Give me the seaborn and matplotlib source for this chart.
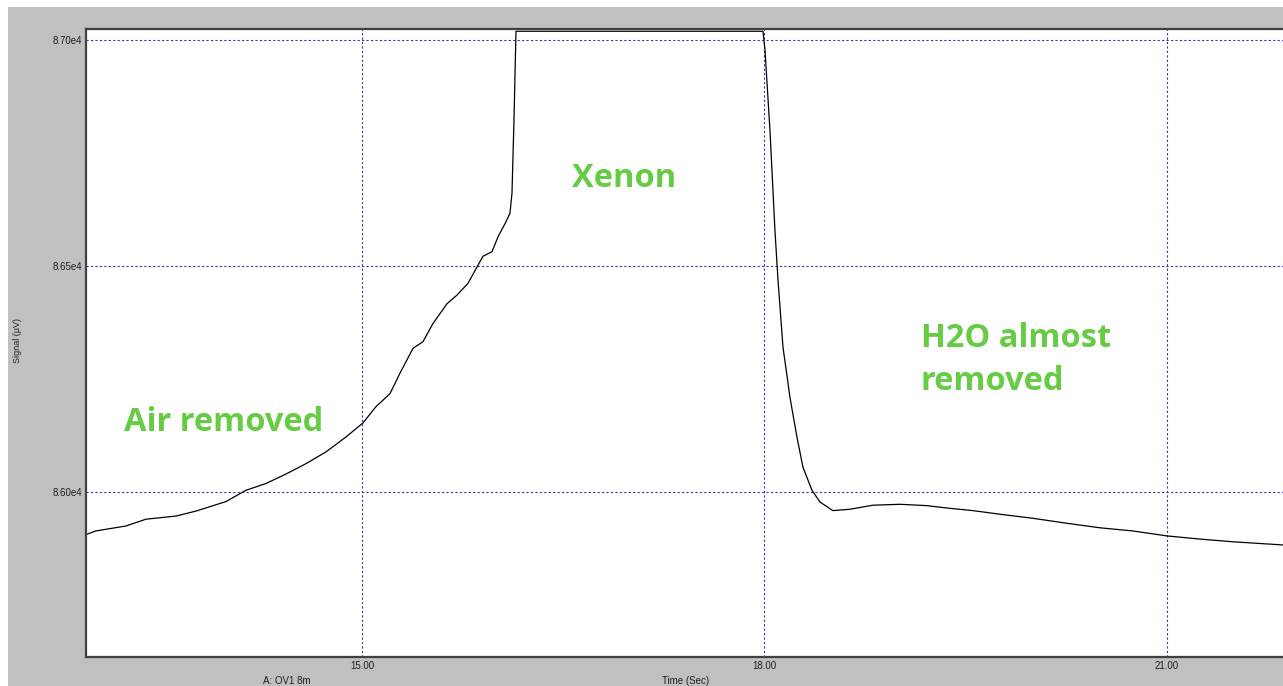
import matplotlib
matplotlib.use("Agg")
import matplotlib.pyplot as plt
from matplotlib.patches import Rectangle
import seaborn as sns
import pandas as pd

# ---- data ----
time_sec = [12.943, 13.017, 13.241, 13.390, 13.614, 13.763, 13.986, 14.135, 14.284,
            14.434, 14.583, 14.732, 14.881, 15.007, 15.104, 15.209, 15.283, 15.380,
            15.455, 15.529, 15.634, 15.708, 15.790, 15.857, 15.902, 15.969, 16.014,
            16.066, 16.103, 16.118, 16.133, 16.148, 17.989, 18.004, 18.041, 18.078,
            18.101, 18.138, 18.190, 18.242, 18.287, 18.354, 18.414, 18.510, 18.637,
            18.809, 19.010, 19.211, 19.383, 19.554, 19.755, 20.001, 20.254, 20.500,
            20.746, 21.000, 21.246, 21.492, 21.865]
signal_uv = [85906, 85914, 85925, 85940, 85947, 85958, 85979, 86004, 86019,
             86040, 86063, 86089, 86122, 86153, 86189, 86218, 86263, 86318,
             86333, 86373, 86417, 86436, 86462, 86498, 86522, 86532, 86565,
             86594, 86617, 86661, 86823, 87020, 87020, 86978, 86801, 86580,
             86469, 86321, 86210, 86122, 86055, 86004, 85978, 85959, 85962,
             85971, 85973, 85970, 85964, 85959, 85951, 85942, 85931, 85921,
             85914, 85903, 85896, 85890, 85883]
x_ticks = [15.0, 18.0, 21.0]
x_tick_labels = ["15.00", "18.00", "21.00"]
y_ticks = [86000, 86500, 87000]
y_tick_labels = ["8.60e4", "8.65e4", "8.70e4"]
annotations = ["Air removed", "Xenon", "H2O almost\nremoved"]
annot_x = [13.226, 16.565, 19.166]
annot_y = [86153, 86695, 86292]
x_label = "Time (Sec)"
y_label = "Signal (µV)"
channel_label = "A: OV1 8m"

df = pd.DataFrame({"time": time_sec, "signal": signal_uv})

W, H = 1283, 686
fig = plt.figure(figsize=(W / 100, H / 100), dpi=100, facecolor="white")
fig.patches.append(Rectangle((8 / W, 0), 1 - 8 / W, 1 - 7 / H, transform=fig.transFigure,
                             facecolor="#c0c0c0", edgecolor="none", zorder=-10))

ax = fig.add_axes([86 / W, 1 - 657 / H, (W - 86) / W + 0.01, (657 - 29) / H])
ax.set_zorder(5)
ax.set_facecolor("white")

sns.lineplot(data=df, x="time", y="signal", ax=ax, color="black", linewidth=0.9,
             estimator=None, sort=False)

ax.set_xlim(12.943, 21.865 + 0.01 * (21.865 - 12.943) / ((W - 86) / W))
ax.set_ylim(85635, 87025)

ax.set_xticks(x_ticks)
ax.set_xticklabels(x_tick_labels)
ax.set_yticks(y_ticks)
ax.set_yticklabels(y_tick_labels)
ax.tick_params(length=0, labelsize=7, colors="#202020", pad=3)
for lab in ax.get_xticklabels() + ax.get_yticklabels():
    lab.set_family("Liberation Sans")

ax.grid(True, color="#3535b0", linestyle=(0, (2, 2)), linewidth=0.8)
ax.set_axisbelow(True)

for side in ["top", "left", "bottom"]:
    ax.spines[side].set_color("#404040")
    ax.spines[side].set_linewidth(1.6)
ax.spines["right"].set_visible(False)

ax.set_xlabel("")
ax.set_ylabel("")
fig.text(18 / W, 1 - 340 / H, y_label, rotation=90, ha="center", va="center",
         fontsize=6.5, family="Liberation Sans", color="#202020")
fig.text(686 / W, 1 - 681 / H, x_label, ha="center", va="center",
         fontsize=7, family="Liberation Sans", color="#202020")
fig.text(287 / W, 1 - 681 / H, channel_label, ha="center", va="center",
         fontsize=7, family="Liberation Sans", color="#202020")

for txt, tx, ty in zip(annotations, annot_x, annot_y):
    ax.text(tx, ty, txt, ha="left", va="center", fontsize=23.5, fontweight="bold",
            family="Open Sans", color="#66cc44", linespacing=1.42)

fig.savefig("out.png", dpi=100, facecolor=fig.get_facecolor())
